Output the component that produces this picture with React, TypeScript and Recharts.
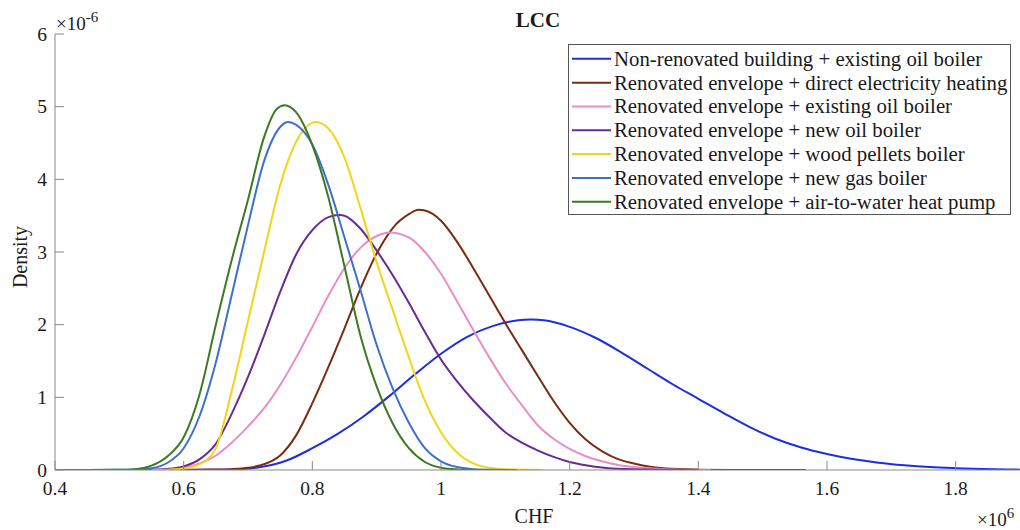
import React from 'react';
import { LineChart, Line, XAxis, YAxis, Legend, Customized } from 'recharts';

const FONT = "'Liberation Serif', 'Times New Roman', Times, serif";
const AXIS = '#8a8a8a';
const TEXT = '#1a1a1a';

const xTicks = [0.4, 0.6, 0.8, 1.0, 1.2, 1.4, 1.6, 1.8];
const yTicks = [0, 1, 2, 3, 4, 5, 6];

const seriesNames = [
  'Non-renovated building + existing oil boiler',
  'Renovated envelope + direct electricity heating',
  'Renovated envelope + existing oil boiler',
  'Renovated envelope + new oil boiler',
  'Renovated envelope + wood pellets boiler',
  'Renovated envelope + new gas boiler',
  'Renovated envelope + air-to-water heat pump',
];
const seriesColors = ['#1b2fe0', '#7a2c10', '#ea8cc8', '#6b2a90', '#f2d51a', '#3f6fcc', '#3b7a22'];

// Non-renovated building + existing oil boiler
const nrX = [0.4, 0.6, 0.64, 0.68, 0.72, 0.76, 0.8, 0.84, 0.88, 0.92, 0.96, 1.0, 1.04, 1.08, 1.12, 1.14, 1.16, 1.2, 1.24, 1.28, 1.32, 1.36, 1.4, 1.44, 1.48, 1.52, 1.56, 1.6, 1.64, 1.68, 1.72, 1.76, 1.8, 1.84, 1.88, 1.9];
const nrY = [0, 0, 0.002, 0.01, 0.04, 0.13, 0.3, 0.5, 0.74, 1.02, 1.32, 1.6, 1.83, 1.98, 2.06, 2.07, 2.06, 1.97, 1.82, 1.62, 1.4, 1.18, 0.98, 0.78, 0.59, 0.43, 0.31, 0.22, 0.15, 0.1, 0.065, 0.04, 0.025, 0.014, 0.007, 0.005];

// Renovated envelope + direct electricity heating
const deX = [0.55, 0.6, 0.65, 0.675, 0.7, 0.725, 0.75, 0.775, 0.8, 0.825, 0.85, 0.875, 0.9, 0.925, 0.95, 0.965, 0.975, 1.0, 1.025, 1.05, 1.075, 1.1, 1.125, 1.15, 1.175, 1.2, 1.225, 1.25, 1.275, 1.3, 1.325, 1.35, 1.4, 1.45, 1.567];
const deY = [0, 0.002, 0.006, 0.012, 0.03, 0.08, 0.2, 0.48, 0.92, 1.42, 1.95, 2.5, 2.98, 3.33, 3.52, 3.58, 3.57, 3.43, 3.14, 2.78, 2.4, 2.02, 1.66, 1.3, 0.95, 0.65, 0.42, 0.26, 0.15, 0.09, 0.045, 0.02, 0.005, 0.001, 0];

// Renovated envelope + existing oil boiler
const eoX = [0.5, 0.55, 0.575, 0.6, 0.625, 0.65, 0.675, 0.7, 0.725, 0.75, 0.775, 0.8, 0.825, 0.85, 0.875, 0.9, 0.92, 0.95, 0.975, 1.0, 1.025, 1.05, 1.075, 1.1, 1.125, 1.15, 1.175, 1.2, 1.225, 1.25, 1.275, 1.3, 1.35, 1.42];
const eoY = [0, 0.003, 0.01, 0.03, 0.09, 0.2, 0.38, 0.6, 0.85, 1.17, 1.55, 1.97, 2.4, 2.78, 3.06, 3.22, 3.27, 3.2, 3.0, 2.7, 2.32, 1.93, 1.55, 1.2, 0.9, 0.62, 0.43, 0.29, 0.19, 0.12, 0.07, 0.04, 0.01, 0];

// Renovated envelope + new oil boiler
const noX = [0.5, 0.55, 0.575, 0.6, 0.625, 0.65, 0.675, 0.7, 0.725, 0.75, 0.775, 0.8, 0.825, 0.842, 0.85, 0.875, 0.9, 0.925, 0.95, 0.975, 1.0, 1.025, 1.05, 1.075, 1.1, 1.125, 1.15, 1.175, 1.2, 1.225, 1.25, 1.3, 1.4];
const noY = [0, 0.005, 0.015, 0.05, 0.15, 0.36, 0.78, 1.28, 1.85, 2.45, 2.97, 3.3, 3.48, 3.51, 3.5, 3.32, 3.02, 2.68, 2.3, 1.9, 1.52, 1.22, 0.96, 0.73, 0.52, 0.38, 0.27, 0.18, 0.11, 0.065, 0.035, 0.01, 0];

// Renovated envelope + wood pellets boiler
const wpX = [0.55, 0.575, 0.6, 0.625, 0.65, 0.675, 0.7, 0.725, 0.75, 0.775, 0.8, 0.805, 0.825, 0.85, 0.875, 0.9, 0.925, 0.95, 0.975, 1.0, 1.025, 1.05, 1.075, 1.1, 1.159];
const wpY = [0, 0.005, 0.02, 0.08, 0.3, 1.1, 2.05, 3.0, 3.92, 4.52, 4.78, 4.79, 4.7, 4.3, 3.6, 2.86, 2.2, 1.55, 0.95, 0.52, 0.24, 0.09, 0.03, 0.01, 0];

// Renovated envelope + new gas boiler
const ngX = [0.45, 0.5, 0.525, 0.55, 0.575, 0.6, 0.625, 0.65, 0.675, 0.7, 0.725, 0.75, 0.7625, 0.775, 0.8, 0.825, 0.85, 0.875, 0.9, 0.925, 0.95, 0.975, 1.0, 1.025, 1.05, 1.075, 1.118];
const ngY = [0, 0.002, 0.008, 0.025, 0.1, 0.3, 0.75, 1.48, 2.42, 3.37, 4.25, 4.72, 4.79, 4.75, 4.48, 3.92, 3.2, 2.47, 1.72, 1.12, 0.65, 0.3, 0.12, 0.04, 0.012, 0.003, 0];

// Renovated envelope + air-to-water heat pump
const hpX = [0.4, 0.45, 0.5, 0.525, 0.55, 0.575, 0.6, 0.625, 0.65, 0.675, 0.7, 0.725, 0.745, 0.757, 0.775, 0.8, 0.825, 0.85, 0.875, 0.9, 0.925, 0.95, 0.975, 1.0, 1.025, 1.05, 1.081];
const hpY = [0, 0, 0.003, 0.012, 0.06, 0.19, 0.45, 1.05, 2.0, 2.9, 3.72, 4.58, 4.97, 5.02, 4.92, 4.47, 3.75, 2.8, 1.84, 1.15, 0.64, 0.3, 0.11, 0.03, 0.008, 0.002, 0];

const seriesX = [nrX, deX, eoX, noX, wpX, ngX, hpX];
const seriesY = [nrY, deY, eoY, noY, wpY, ngY, hpY];

const series = seriesX.map((xs, i) => ({
  name: seriesNames[i],
  color: seriesColors[i],
  data: xs.map((x, j) => ({ x, y: seriesY[i][j] })),
}));

const fmt = (v: number) => String(Math.round(v * 10) / 10);

const XTick = (props: any) => {
  const { x, y, payload } = props;
  return (
    <g>
      <line x1={x} x2={x} y1={y} y2={y - 9} stroke={AXIS} strokeWidth={1} />
      <text x={x} y={y + 24.5} textAnchor="middle" fontFamily={FONT} fontSize={19.5} fill={TEXT}>
        {fmt(payload.value)}
      </text>
    </g>
  );
};

const YTick = (props: any) => {
  const { x, y, payload } = props;
  return (
    <g>
      <line x1={x} x2={x + 9} y1={y} y2={y} stroke={AXIS} strokeWidth={1} />
      <text x={x - 8} y={y + 6.5} textAnchor="end" fontFamily={FONT} fontSize={19.5} fill={TEXT}>
        {fmt(payload.value)}
      </text>
    </g>
  );
};

const LegendBox = () => (
  <svg width={443} height={171} style={{ display: 'block' }}>
    <rect x={0.5} y={0.5} width={442} height={170} fill="#fff" stroke="#555" strokeWidth={1} />
    {series.map((s, i) => (
      <g key={s.name}>
        <line x1={4} x2={43} y1={14.8 + i * 23.83} y2={14.8 + i * 23.83} stroke={s.color} strokeWidth={2} />
        <text x={46} y={21.8 + i * 23.83} fontFamily={FONT} fontSize={20.8} fill={TEXT}>
          {s.name}
        </text>
      </g>
    ))}
  </svg>
);

const Annotations = () => (
  <g fontFamily={FONT} fill={TEXT}>
    <text x={538} y={26.5} textAnchor="middle" fontWeight="bold" fontSize={21}>
      LCC
    </text>
    <text x={56} y={30} fontSize={19}>
      ×10
      <tspan dy={-8} fontSize={15}>
        -6
      </tspan>
    </text>
    <text x={977} y={526} fontSize={19}>
      ×10
      <tspan dy={-8} fontSize={15}>
        6
      </tspan>
    </text>
    <text x={534} y={523} textAnchor="middle" fontSize={20}>
      CHF
    </text>
    <text x={0} y={0} transform="translate(27 257) rotate(-90)" textAnchor="middle" fontSize={20}>
      Density
    </text>
  </g>
);

export default function App() {
  return (
    <div style={{ position: 'absolute', left: 0, top: 0, width: 1020, height: 530, background: '#fff' }}>
      <LineChart width={1020} height={530} margin={{ top: 34, right: 0, bottom: 0, left: 0 }}>
        <XAxis
          type="number"
          dataKey="x"
          domain={[0.4, 1.9]}
          ticks={xTicks}
          interval={0}
          allowDataOverflow
          height={60}
          stroke={AXIS}
          tickLine={false}
          tickSize={0}
          tickMargin={0}
          tick={<XTick />}
        />
        <YAxis
          type="number"
          domain={[0, 6]}
          ticks={yTicks}
          interval={0}
          allowDataOverflow
          width={55}
          stroke={AXIS}
          tickLine={false}
          tickSize={0}
          tickMargin={0}
          tick={<YTick />}
        />
        {series.map((s) => (
          <Line
            key={s.name}
            data={s.data}
            dataKey="y"
            name={s.name}
            type="monotone"
            stroke={s.color}
            strokeWidth={2}
            dot={false}
            activeDot={false}
            isAnimationActive={false}
          />
        ))}
        <Legend
          layout="vertical"
          align="center"
          verticalAlign="middle"
          wrapperStyle={{ position: 'absolute', left: 568, top: 44, width: 443, height: 171, margin: 0 }}
          content={() => <LegendBox />}
        />
        <Customized component={<Annotations />} />
      </LineChart>
    </div>
  );
}
